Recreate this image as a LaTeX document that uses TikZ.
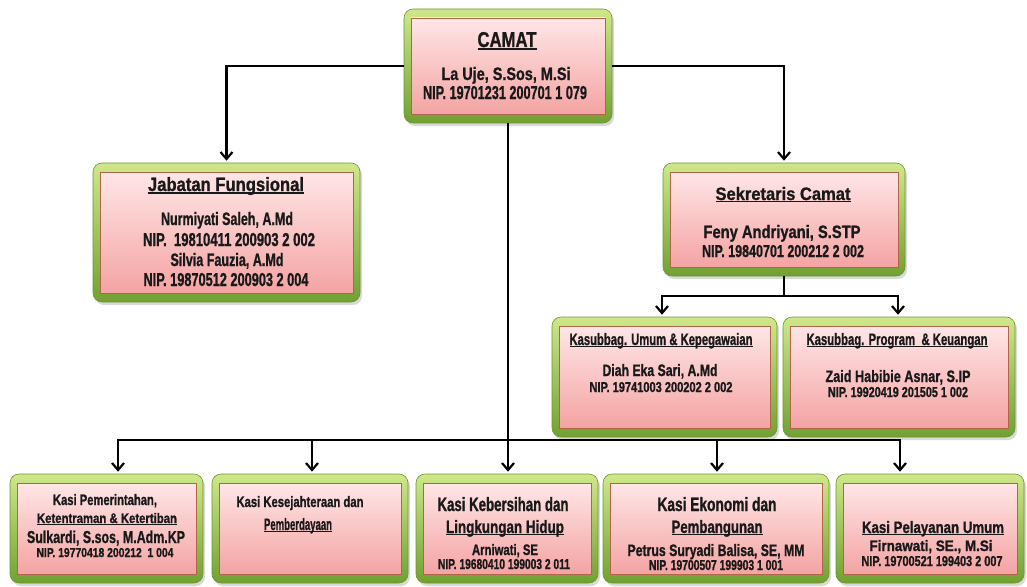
\documentclass[tikz,border=0pt]{standalone}
\usepackage{fontspec}
\setmainfont{Liberation Sans}[BoldFeatures={FakeBold=1.2}]
\usepackage{graphicx}
\usetikzlibrary{arrows.meta,shadows}

\definecolor{gtop}{HTML}{CFE78A}
\definecolor{gbot}{HTML}{72A032}
\definecolor{gline}{HTML}{6A9530}
\definecolor{ptop}{HTML}{FFE6E6}
\definecolor{pbot}{HTML}{F4A3A3}
\definecolor{pline}{HTML}{B0654A}

\tikzset{
  frame/.style={rounded corners=9pt, top color=gtop, bottom color=gbot, draw=gline, line width=0.6pt, inner sep=0pt,
    drop shadow={opacity=0.3, shadow xshift=2pt, shadow yshift=-3pt}},
  pinkbox/.style={top color=ptop, bottom color=pbot, draw=pline, line width=0.7pt, inner sep=0pt},
  tx/.style={inner sep=0pt, anchor=base, font=\bfseries, text=black!90},
  link/.style={line width=2.2pt, black},
  arr/.style={link, -{Straight Barb[length=7pt,width=12pt]}, shorten >=2pt},
}

% underline close to the baseline
\newcommand\ulx[1]{\setbox2=\hbox{#1}\rlap{\rule[-1.3pt]{\wd2}{0.7pt}}\box2}
% name, x1, y1, x2, y2
\newcommand\orgbox[5]{%
  \node[frame, minimum width={(#4-#2)*1pt}, minimum height={(#5-#3)*1pt}] (#1) at ({(#2+#4)/2},{(#3+#5)/2}) {};
  \node[pinkbox, minimum width={(#4-#2-14)*1pt}, minimum height={(#5-#3-18)*1pt}] (#1-in) at ({(#2+#4)/2},{(#3+#5)/2}) {};
}
% name, x,y (baseline), width, cap height, text
\newcommand\tline[5]{\node[tx] (#1) at (#2) {\resizebox{#3pt}{#4pt}{#5}};}

\begin{document}
\begin{tikzpicture}[x=1pt,y=-1pt]
\useasboundingbox (0,0) rectangle (1027,586);

\orgbox{camat}{404}{9}{612}{123}
\orgbox{jab}{93}{163}{360}{302}
\orgbox{sek}{663}{163}{905}{276}
\orgbox{ks1}{552}{317}{777}{437}
\orgbox{ks2}{783}{317}{1015}{437}
\orgbox{b1}{10}{474}{203}{583}
\orgbox{b2}{212}{474}{408}{583}
\orgbox{b3}{416}{474}{598}{583}
\orgbox{b4}{603}{474}{829}{583}
\orgbox{b5}{836}{474}{1024}{583}

% connectors
\draw[arr] (camat.west) -| (jab.north);
\draw[arr] (camat.east) -| (sek.north);
\coordinate (j1) at (118,440);
\coordinate (j2) at (312,440);
\coordinate (j4) at (717,440);
\coordinate (j5) at (900,440);
\draw[link, line cap=rect] (j1) -- (j5);
\draw[arr] (camat.south) -- (camat.south |- b3.north);
\draw[arr] (j1) -- (j1 |- b1.north);
\draw[arr] (j2) -- (j2 |- b2.north);
\draw[arr] (j4) -- (j4 |- b4.north);
\draw[arr] (j5) -- (j5 |- b5.north);
\coordinate (sbus) at (784,296);
\draw[link] (sek.south) -- (sek.south |- sbus);
\coordinate (s1) at (662,296);
\coordinate (s2) at (898,296);
\draw[link, line cap=rect] (s1) -- (s2);
\draw[arr] (s1) -- (s1 |- ks1.north);
\draw[arr] (s2) -- (s2 |- ks2.north);

% texts
\tline{c1}{507,47}{59}{15}{\ulx{CAMAT}}
\tline{c2}{506,80}{129}{13}{La Uje, S.Sos, M.Si}
\tline{c3}{505,99}{164}{13}{NIP. 19701231 200701 1 079}

\tline{ja1}{226,191}{156}{14}{\ulx{Jabatan Fungsional}}
\tline{ja2}{227,225}{132}{13}{Nurmiyati Saleh, A.Md}
\tline{ja3}{229,246}{172}{13}{NIP.~ 19810411 200903 2 002}
\tline{ja4}{227,266}{113}{13}{Silvia Fauzia, A.Md}
\tline{ja5}{226,286}{165}{13}{NIP. 19870512 200903 2 004}

\tline{se1}{783,200}{135}{13}{\ulx{Sekretaris Camat}}
\tline{se2}{782,238}{157}{13}{Feny Andriyani, S.STP}
\tline{se3}{783,257}{162}{12}{NIP. 19840701 200212 2 002}

\tline{k11}{661,345}{183}{12}{\ulx{Kasubbag. Umum \& Kepegawaian}}
\tline{k12}{660,376}{115}{12}{Diah Eka Sari, A.Md}
\tline{k13}{661,392}{143}{10}{NIP. 19741003 200202 2 002}

\tline{k21}{897,345}{181}{12}{\ulx{Kasubbag. Program~ \& Keuangan}}
\tline{k22}{898,382}{145}{12}{Zaid Habibie Asnar, S.IP}
\tline{k23}{898,397}{140}{10}{NIP. 19920419 201505 1 002}

\tline{b11}{105,505}{104}{11}{Kasi Pemerintahan,}
\tline{b12}{107,523}{140}{10}{\ulx{Ketentraman \& Ketertiban}}
\tline{b13}{106,543}{158}{12.5}{Sulkardi, S.sos, M.Adm.KP}
\tline{b14}{105,557}{137}{9}{NIP. 19770418 200212~ 1 004}

\tline{b21}{300,507}{127}{11}{Kasi Kesejahteraan dan}
\tline{b22}{298,530}{68}{12}{\ulx{Pemberdayaan}}

\tline{b31}{503,511}{131}{14}{Kasi Kebersihan dan}
\tline{b32}{505,533}{118}{13}{\ulx{Lingkungan Hidup}}
\tline{b33}{505,555}{66}{11}{Arniwati, SE}
\tline{b34}{504,569}{132}{10}{NIP. 19680410 199003 2 011}

\tline{b41}{717,511}{119}{14}{Kasi Ekonomi dan}
\tline{b42}{717,533}{91}{13}{\ulx{Pembangunan}}
\tline{b43}{716,556}{177}{12}{Petrus Suryadi Balisa, SE, MM}
\tline{b44}{716,570}{134}{10}{NIP. 19700507 199903 1 001}

\tline{b51}{933,533}{142}{12}{\ulx{Kasi Pelayanan Umum}}
\tline{b52}{931,551}{123}{11}{Firnawati, SE., M.Si}
\tline{b53}{932,566}{141}{10}{NIP. 19700521 199403 2 007}
\end{tikzpicture}
\end{document}
